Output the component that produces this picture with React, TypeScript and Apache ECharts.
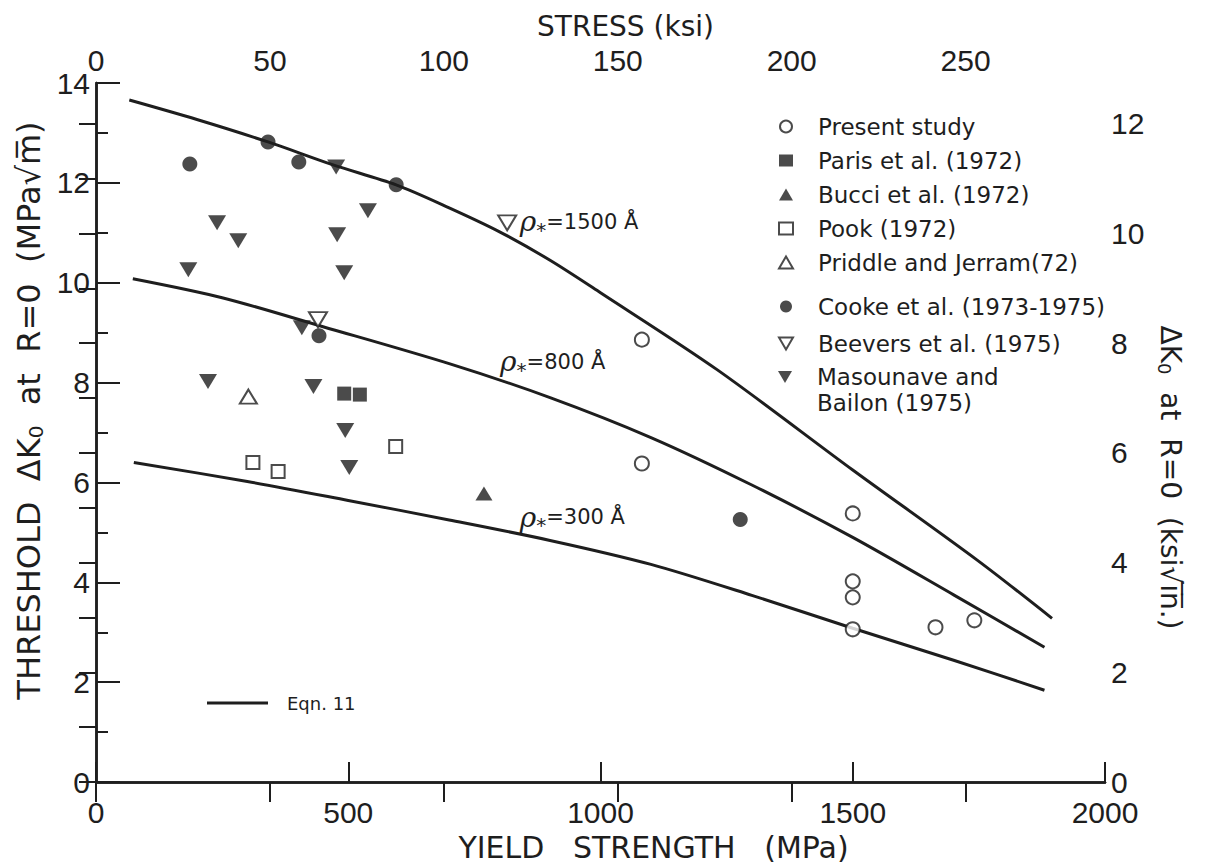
import React, { useEffect, useRef } from "react";
import * as echarts from "echarts";

// unit conversions used by the secondary axes
const MPA_PER_KSI = 6.895;
const MPA_SQRTM_PER_KSI_SQRTIN = 1.0988;

// ---- data: [yield strength (MPa), threshold ΔK0 (MPa√m)] ----
const presentStudy = [[1082, 8.86], [1082, 6.38], [1500, 5.38], [1500, 4.02], [1500, 3.7], [1500, 3.06], [1664, 3.1], [1741, 3.24]];
const paris1972 = [[492, 7.78], [523, 7.76]];
const bucci1972 = [[769, 5.78]];
const pook1972 = [[311, 6.4], [361, 6.22], [594, 6.72]];
const priddle1972 = [[302, 7.72]];
const cooke1975 = [[186, 12.38], [341, 12.82], [402, 12.42], [595, 11.96], [442, 8.94], [1277, 5.26]];
const beevers1975 = [[815, 11.2], [440, 9.26]];
const masounave1975 = [[476, 12.32], [240, 11.2], [282, 10.84], [183, 10.26], [539, 11.44], [478, 10.96], [492, 10.2], [408, 9.1], [222, 8.02], [431, 7.92], [494, 7.04], [502, 6.3]];

// Eqn. 11 curves
const curve1500X = [66, 200, 341, 470, 595, 700, 800, 900, 1000, 1231, 1500, 1746, 1895];
const curve1500Y = [13.66, 13.27, 12.82, 12.36, 11.96, 11.5, 11.02, 10.45, 9.8, 8.26, 6.25, 4.45, 3.28];
const curve800X = [73, 250, 450, 700, 900, 1100, 1300, 1500, 1700, 1880];
const curve800Y = [10.08, 9.7, 9.12, 8.38, 7.7, 6.9, 5.95, 4.9, 3.75, 2.7];
const curve300X = [75, 300, 500, 700, 900, 1100, 1300, 1500, 1700, 1880];
const curve300Y = [6.4, 6.02, 5.64, 5.25, 4.84, 4.36, 3.74, 3.08, 2.44, 1.84];

// curve labels (text, anchor in data units)
const curveLabelTexts = ["=1500 Å", "=800 Å", "=300 Å"];
const curveLabelAnchors = [[840, 11.22], [801, 8.42], [840, 5.3]];

const INK = "#1e1e1e";
const SANS = "'DejaVu Sans', sans-serif";
const NUM = "'Liberation Sans', Arial, sans-serif";

const downTri = "path://M0,0L20,0L10,17Z";

export default function App() {
  const ref = useRef<HTMLDivElement>(null);
  useEffect(() => {
    if (!ref.current) return;
    const chart = echarts.init(ref.current, undefined, { renderer: "svg" });
    const zip = (x: number[], y: number[]) => x.map((v, i) => [v, y[i]]);
    const lineSeries = (x: number[], y: number[]) => ({
      type: "line",
      name: "Eqn. 11",
      data: zip(x, y),
      symbol: "none",
      showSymbol: false,
      smooth: 0.3,
      lineStyle: { color: INK, width: 3 },
      itemStyle: { color: INK },
      z: 2,
      silent: true,
    });
    const open = { color: "#ffffff", borderColor: INK, borderWidth: 2 };
    const filled = { color: INK, borderColor: INK, borderWidth: 0 };
    const legendText = { fontSize: 23, lineHeight: 23, fontFamily: SANS, color: INK, padding: [0, 0, 0, 20] };
    const legendBase = {
      orient: "vertical",
      left: 778,
      padding: 0,
      itemWidth: 14,
      itemHeight: 12,
      selectedMode: false,
    };

    chart.setOption({
      animation: false,
      backgroundColor: "#ffffff",
      textStyle: { fontFamily: SANS, color: INK },
      grid: { left: 96, right: 100, top: 83, bottom: 84, containLabel: false },
      xAxis: [
        {
          type: "value",
          position: "bottom",
          min: 0,
          max: 2000,
          interval: 500,
          name: "YIELD   STRENGTH   (MPa)",
          nameLocation: "middle",
          nameGap: 48,
          nameTextStyle: { fontSize: 30, color: INK, fontFamily: SANS, padding: [0, 0, 0, 106] },
          axisLine: { show: true, lineStyle: { color: INK, width: 2.5 } },
          axisTick: { show: true, inside: true, length: 20, lineStyle: { color: INK, width: 2 } },
          axisLabel: { fontSize: 30, lineHeight: 28, color: INK, fontFamily: NUM, margin: 16, formatter: (v: number) => String(v) },
          splitLine: { show: false },
        },
        {
          type: "value",
          position: "top",
          min: 0,
          max: 2000 / MPA_PER_KSI,
          interval: 50,
          name: "STRESS (ksi)",
          nameLocation: "middle",
          nameGap: 40,
          nameTextStyle: { fontSize: 28, color: INK, fontFamily: SANS, padding: [0, 0, 0, 50] },
          axisLine: { show: true, lineStyle: { color: INK, width: 2.5 } },
          axisTick: { show: true, inside: true, length: 20, lineStyle: { color: INK, width: 2 } },
          axisLabel: { fontSize: 30, color: INK, fontFamily: NUM, margin: 8, showMaxLabel: false, formatter: (v: number) => String(v) },
          splitLine: { show: false },
        },
      ],
      yAxis: [
        {
          type: "value",
          position: "left",
          min: 0,
          max: 14,
          interval: 2,
          name: "THRESHOLD  ΔK{s|0}  at  R=0  (MPa√m\u0305)",
          nameLocation: "middle",
          nameGap: 50,
          nameTextStyle: {
            fontSize: 32,
            color: INK,
            fontFamily: SANS,
            padding: [0, 0, 0, 44],
            rich: { s: { fontSize: 20, fontFamily: SANS, color: INK, padding: [14, 0, 0, 0] } },
          },
          axisLine: { show: true, lineStyle: { color: INK, width: 2.5 } },
          axisTick: { show: true, inside: true, length: 24, lineStyle: { color: INK, width: 2 } },
          minorTick: { show: true, splitNumber: 2, length: 12, lineStyle: { color: INK, width: 2 } },
          axisLabel: { fontSize: 30, lineHeight: 26, color: INK, fontFamily: NUM, margin: 6 },
          splitLine: { show: false },
          minorSplitLine: { show: false },
        },
        {
          type: "value",
          position: "right",
          min: 0,
          max: 14 / MPA_SQRTM_PER_KSI_SQRTIN,
          interval: 1,
          name: "ΔK{s|0}  at  R=0  (ksi√i\u0305n\u0305.)",
          nameLocation: "middle",
          nameRotate: -90,
          nameGap: 42,
          nameTextStyle: {
            fontSize: 28,
            color: INK,
            fontFamily: SANS,
            padding: [0, 0, 0, 90],
            rich: { s: { fontSize: 18, fontFamily: SANS, color: INK, padding: [12, 0, 0, 0] } },
          },
          axisLine: { show: true, lineStyle: { color: INK, width: 2.5 } },
          axisTick: { show: true, inside: true, length: 17, lineStyle: { color: INK, width: 2 } },
          axisLabel: {
            fontSize: 30,
            lineHeight: 26,
            color: INK,
            fontFamily: NUM,
            margin: 6,
            padding: [0, 0, 8, 0],
            showMaxLabel: false,
            formatter: (v: number) => {
              const r = Math.round(v);
              return Math.abs(v - r) < 1e-6 && r % 2 === 0 ? String(r) : "";
            },
          },
          splitLine: { show: false },
        },
      ],
      legend: [
        {
          ...legendBase,
          data: ["Present study", "Paris et al. (1972)", "Bucci et al. (1972)", "Pook (1972)", "Priddle and Jerram(72)"],
          top: 115,
          itemGap: 11,
          textStyle: legendText,
        },
        {
          ...legendBase,
          data: ["Cooke et al. (1973-1975)", "Beevers et al. (1975)"],
          top: 295,
          itemGap: 14,
          textStyle: legendText,
        },
        {
          ...legendBase,
          data: ["Masounave and Bailon (1975)"],
          top: 338,
          itemHeight: 13,
          formatter: () => "\nMasounave and\nBailon (1975)",
          textStyle: { ...legendText, lineHeight: 26 },
        },
        {
          data: [{ name: "Eqn. 11", icon: "rect" }],
          left: 207,
          top: 694,
          padding: 0,
          itemWidth: 61,
          itemHeight: 3,
          selectedMode: false,
          textStyle: { fontSize: 18, lineHeight: 18, fontFamily: SANS, color: INK, padding: [0, 0, 0, 14] },
        },
      ],
      series: [
        lineSeries(curve1500X, curve1500Y),
        lineSeries(curve800X, curve800Y),
        lineSeries(curve300X, curve300Y),
        { type: "scatter", name: "Present study", data: presentStudy, symbol: "circle", symbolSize: 14, itemStyle: open, z: 4 },
        { type: "scatter", name: "Paris et al. (1972)", data: paris1972, symbol: "rect", symbolSize: 14, itemStyle: filled, z: 4 },
        { type: "scatter", name: "Bucci et al. (1972)", data: bucci1972, symbol: "triangle", symbolSize: [17, 14], itemStyle: filled, z: 4 },
        { type: "scatter", name: "Pook (1972)", data: pook1972, symbol: "rect", symbolSize: 13, itemStyle: open, z: 4 },
        { type: "scatter", name: "Priddle and Jerram(72)", data: priddle1972, symbol: "triangle", symbolSize: [17, 14], itemStyle: open, z: 4 },
        { type: "scatter", name: "Cooke et al. (1973-1975)", data: cooke1975, symbol: "circle", symbolSize: 15, itemStyle: filled, z: 4 },
        { type: "scatter", name: "Beevers et al. (1975)", data: beevers1975, symbol: downTri, symbolSize: [18, 15], itemStyle: open, z: 4 },
        { type: "scatter", name: "Masounave and Bailon (1975)", data: masounave1975, symbol: downTri, symbolSize: [18, 15], itemStyle: filled, z: 4 },
      ],
    });

    const graphics = curveLabelTexts.map((t, i) => {
      const p = chart.convertToPixel({ xAxisIndex: 0, yAxisIndex: 0 }, curveLabelAnchors[i]) as number[];
      return {
        type: "text",
        x: p[0],
        y: p[1],
        z: 10,
        style: {
          text: `{r|ρ}{s|*}{t|${t}}`,
          verticalAlign: "middle",
          fill: INK,
          rich: {
            r: { fontSize: 28, fontStyle: "italic", fontFamily: "'DejaVu Serif', serif", fill: INK },
            s: { fontSize: 20, fontFamily: SANS, fill: INK, padding: [16, 0, 0, 0] },
            t: { fontSize: 21, fontFamily: SANS, fill: INK },
          },
        },
      };
    });
    chart.setOption({ graphic: graphics });

    return () => chart.dispose();
  }, []);
  return <div ref={ref} style={{ position: "absolute", left: 0, top: 0, width: 1205, height: 867, background: "#fff" }} />;
}
